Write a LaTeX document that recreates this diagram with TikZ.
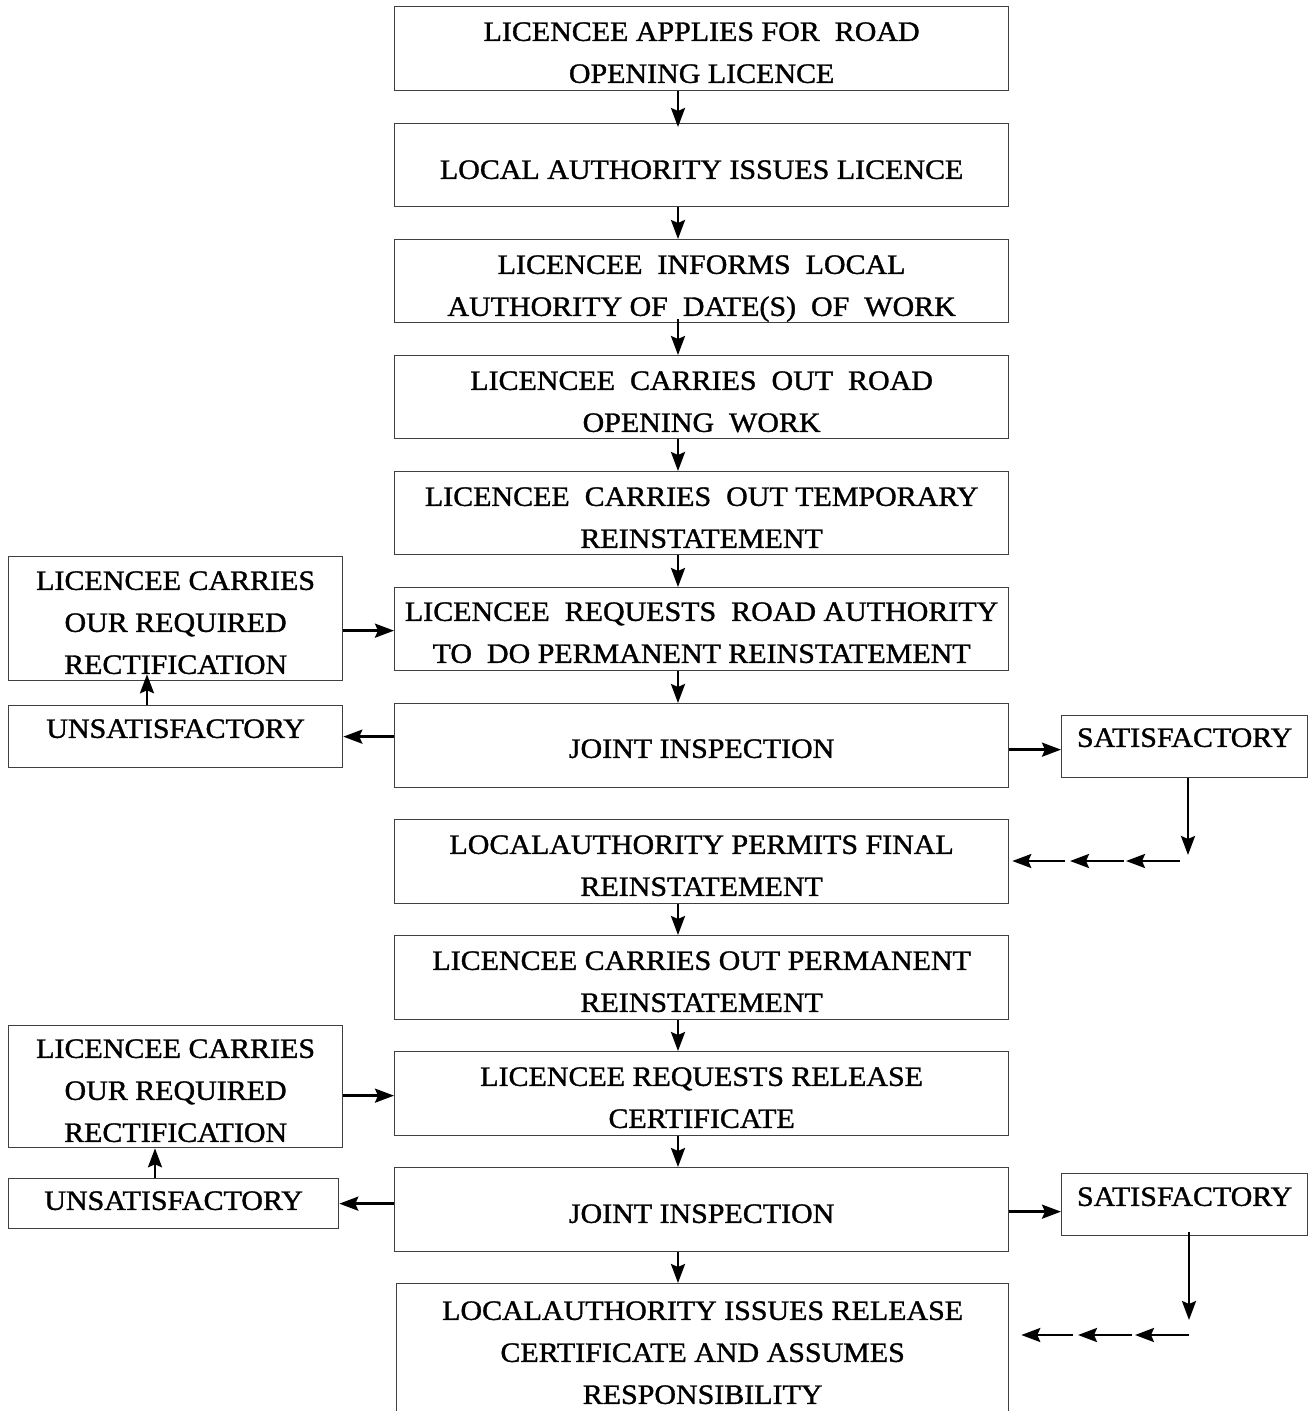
\documentclass[tikz,border=0pt]{standalone}
\usepackage{fontspec}
\setmainfont{Liberation Serif}[FakeStretch=1.07,FakeBold=1.2]
\usetikzlibrary{arrows.meta,calc}
\definecolor{boxgray}{HTML}{404040}
\newcommand\bt[4]{\parbox[c][#2][t]{#1}{\centering\rule{0pt}{\dimexpr#3+9.2pt\relax}#4\par}}
\tikzset{
  box/.style={draw=boxgray, line width=1.3pt, inner sep=0pt, anchor=north west,
    font=\fontsize{28}{42}\selectfont},
  arr/.style={-{Stealth[length=19pt,width=14pt,inset=3pt]}, line width=2.5pt, black},
}
\begin{document}
\begin{tikzpicture}[x=1pt,y=-1pt]
\useasboundingbox (0,0) rectangle (1310,1411);
% main column
\node[box] (n1) at (394,6) {\bt{614pt}{84pt}{25pt}{LICENCEE APPLIES FOR\ \ ROAD\\OPENING LICENCE}};
\node[box] (n2) at (394,123) {\bt{614pt}{83pt}{46pt}{LOCAL AUTHORITY ISSUES LICENCE}};
\node[box] (n3) at (394,239) {\bt{614pt}{83pt}{25pt}{LICENCEE\ \ INFORMS\ \ LOCAL\\AUTHORITY OF\ \ DATE(S)\ \ OF\ \ WORK}};
\node[box] (n4) at (394,355) {\bt{614pt}{83pt}{25pt}{LICENCEE\ \ CARRIES\ \ OUT\ \ ROAD\\OPENING\ \ WORK}};
\node[box] (n5) at (394,471) {\bt{614pt}{83pt}{25pt}{LICENCEE\ \ CARRIES\ \ OUT TEMPORARY\\REINSTATEMENT}};
\node[box] (n6) at (394,587) {\bt{614pt}{83pt}{24pt}{LICENCEE\ \ REQUESTS\ \ ROAD AUTHORITY\\TO\ \ DO PERMANENT REINSTATEMENT}};
\node[box] (n7) at (394,703) {\bt{614pt}{84pt}{45pt}{JOINT INSPECTION}};
\node[box] (n8) at (394,819) {\bt{614pt}{84pt}{25pt}{LOCALAUTHORITY PERMITS FINAL\\REINSTATEMENT}};
\node[box] (n9) at (394,935) {\bt{614pt}{84pt}{25pt}{LICENCEE CARRIES OUT PERMANENT\\REINSTATEMENT}};
\node[box] (n10) at (394,1051) {\bt{614pt}{84pt}{25pt}{LICENCEE REQUESTS RELEASE\\CERTIFICATE}};
\node[box] (n11) at (394,1167) {\bt{614pt}{84pt}{46pt}{JOINT INSPECTION}};
\node[box] (n12) at (396,1283) {\bt{612pt}{140pt}{27pt}{LOCALAUTHORITY ISSUES RELEASE\\CERTIFICATE AND ASSUMES\\RESPONSIBILITY}};
% left boxes
\node[box] (L1) at (8,556) {\bt{334pt}{124pt}{24pt}{LICENCEE CARRIES\\OUR REQUIRED\\RECTIFICATION}};
\node[box] (L2) at (8,705) {\bt{334pt}{62pt}{23pt}{UNSATISFACTORY}};
\node[box] (L3) at (8,1025) {\bt{334pt}{122pt}{23pt}{LICENCEE CARRIES\\OUR REQUIRED\\RECTIFICATION}};
\node[box] (L4) at (8,1178) {\bt{330pt}{50pt}{22pt}{UNSATISFACTORY}};
% right boxes
\node[box] (R1) at (1061,715) {\bt{246pt}{62pt}{22pt}{SATISFACTORY}};
\node[box] (R2) at (1061,1173) {\bt{246pt}{62pt}{23pt}{SATISFACTORY}};
% helper coordinates
\coordinate (ax) at (678,0);
\coordinate (lx1) at (147,0);
\coordinate (lx2) at (155,0);
\coordinate (d1) at (1188,855);
\coordinate (d2) at (1189,1320);
\coordinate (h11) at (1180,861);
\coordinate (h12) at (1126,861);
\coordinate (h13) at (1124,861);
\coordinate (h14) at (1070,861);
\coordinate (h15) at (1065,861);
\coordinate (h21) at (1189,1335);
\coordinate (h22) at (1135,1335);
\coordinate (h23) at (1132,1335);
\coordinate (h24) at (1078,1335);
\coordinate (h25) at (1073,1335);
% main vertical arrows
\draw[arr] (n1.south -| ax) -- ([yshift=-4pt]n2.north -| ax);
\draw[arr] (n2.south -| ax) -- (n3.north -| ax);
\draw[arr] ([yshift=4pt]n3.south -| ax) -- (n4.north -| ax);
\draw[arr] (n4.south -| ax) -- (n5.north -| ax);
\draw[arr] (n5.south -| ax) -- (n6.north -| ax);
\draw[arr] (n6.south -| ax) -- (n7.north -| ax);
\draw[arr] (n8.south -| ax) -- (n9.north -| ax);
\draw[arr] (n9.south -| ax) -- (n10.north -| ax);
\draw[arr] (n10.south -| ax) -- (n11.north -| ax);
\draw[arr] (n11.south -| ax) -- (n12.north -| ax);
% first loop
\draw[arr] ([yshift=-12pt]L1.east) -- ([yshift=-12pt]L1.east -| n6.west);
\draw[arr] (n7.west |- L2.east) -- (L2.east);
\draw[arr] (L2.north -| lx1) -- ([yshift=7pt]L1.south -| lx1);
\draw[arr] ([yshift=-4pt]n7.east) -- ([yshift=-4pt]n7.east -| R1.west);
\draw[arr] (R1.south -| d1) -- (d1);
\draw[arr] (h11) -- (h12);
\draw[arr] (h13) -- (h14);
\draw[arr] (h15) -- ([xshift=3pt]n8.east |- h15);
% second loop
\draw[arr] ([yshift=-9pt]L3.east) -- ([yshift=-9pt]L3.east -| n10.west);
\draw[arr] (n11.west |- L4.east) -- (L4.east);
\draw[arr] (L4.north -| lx2) -- (L3.south -| lx2);
\draw[arr] ([yshift=-2pt]n11.east) -- ([yshift=-2pt]n11.east -| R2.west);
\draw[arr] ([yshift=4pt]R2.south -| d2) -- (d2);
\draw[arr] (h21) -- (h22);
\draw[arr] (h23) -- (h24);
\draw[arr] (h25) -- ([xshift=12pt]n12.east |- h25);
\end{tikzpicture}
\end{document}
